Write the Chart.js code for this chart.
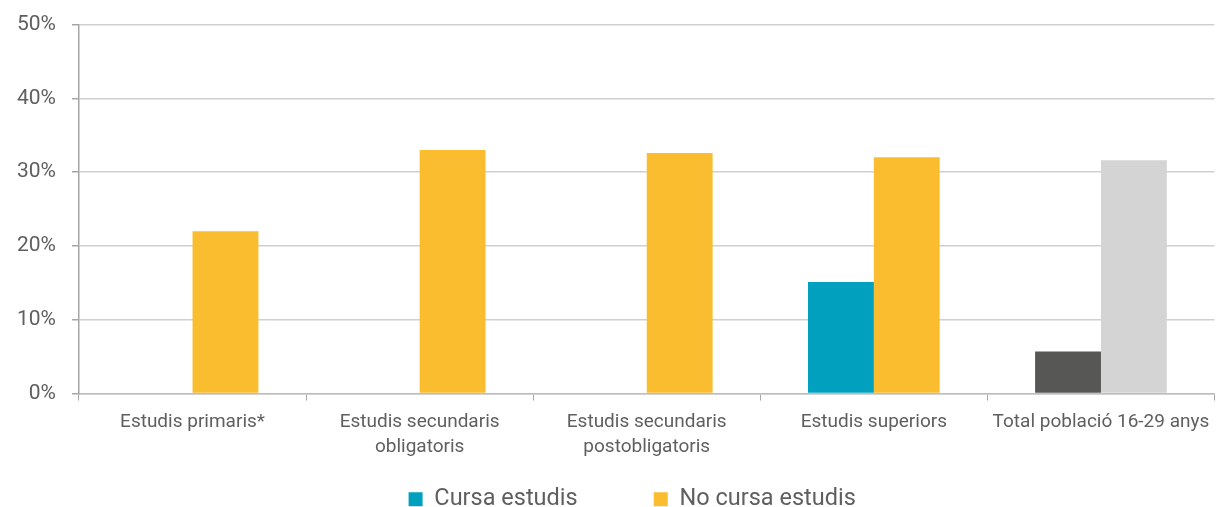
<!DOCTYPE html>
<html>
<head>
<meta charset="utf-8">
<script src="https://cdn.jsdelivr.net/npm/chart.js@4"></script>
<style>
  html, body { margin: 0; padding: 0; background: #fff; }
  #wrap { width: 1219px; height: 507px; }
</style>
</head>
<body>
<div id="wrap"><canvas id="grafic"></canvas></div>
<script>
const categories = [
  "Estudis primaris*",
  ["Estudis secundaris", "obligatoris"],
  ["Estudis secundaris", "postobligatoris"],
  "Estudis superiors",
  "Total població 16-29 anys"
];
const cursaEstudis = [null, null, null, 15.1, 5.7];
const noCursaEstudis = [22.0, 33.0, 32.6, 32.0, 31.6];
const seriesNames = ["Cursa estudis", "No cursa estudis"];
const cursaColors = ["#00A0BE", "#00A0BE", "#00A0BE", "#00A0BE", "#575756"];
const noCursaColors = ["#F9BD2F", "#F9BD2F", "#F9BD2F", "#F9BD2F", "#D4D4D4"];
const legendColors = ["#00A0BE", "#F9BD2F"];

const textColor = "#5f5f5f";
const fontFamily = "Roboto, 'Noto Sans', sans-serif";

// espais per separar els elements de la llegenda
const legendGap = ["          ", "     "];

new Chart(document.getElementById("grafic"), {
  type: "bar",
  data: {
    labels: categories,
    datasets: [
      { label: seriesNames[0], data: cursaEstudis, backgroundColor: cursaColors },
      { label: seriesNames[1], data: noCursaEstudis, backgroundColor: noCursaColors }
    ]
  },
  options: {
    responsive: true,
    maintainAspectRatio: false,
    animation: false,
    categoryPercentage: 0.58,
    barPercentage: 1,
    layout: { padding: { top: 24.5, left: 1, right: 2, bottom: -14 } },
    plugins: {
      tooltip: { enabled: false },
      legend: {
        position: "bottom",
        fullSize: false,
        labels: {
          color: textColor,
          font: { family: fontFamily, size: 23.5 },
          boxWidth: 14,
          boxHeight: 14,
          padding: 17.8,
          generateLabels: (chart) =>
            seriesNames.map((n, i) => ({
              text: n + legendGap[i],
              fillStyle: legendColors[i],
              strokeStyle: legendColors[i],
              lineWidth: 0,
              fontColor: textColor,
              datasetIndex: i
            }))
        }
      }
    },
    scales: {
      x: {
        grid: {
          offset: true,
          drawOnChartArea: false,
          drawTicks: true,
          tickLength: 7,
          color: "#a6a6a6"
        },
        border: { display: true, color: "#bdbdbd", width: 1.5 },
        ticks: {
          color: textColor,
          font: { family: fontFamily, size: 19, lineHeight: 1.32 },
          maxRotation: 0,
          autoSkip: false,
          padding: 9.5
        }
      },
      y: {
        min: 0,
        max: 50,
        afterFit: (scale) => { scale.paddingTop = 0; },
        ticks: {
          stepSize: 10,
          color: textColor,
          font: { family: fontFamily, size: 21 },
          padding: 16,
          callback: (v) => v + "%"
        },
        grid: {
          color: "#d0d0d0",
          lineWidth: 1.5,
          tickLength: 7,
          tickColor: "#a6a6a6"
        },
        border: { display: true, color: "#a6a6a6", width: 1.5 }
      }
    }
  }
});
</script>
</body>
</html>
